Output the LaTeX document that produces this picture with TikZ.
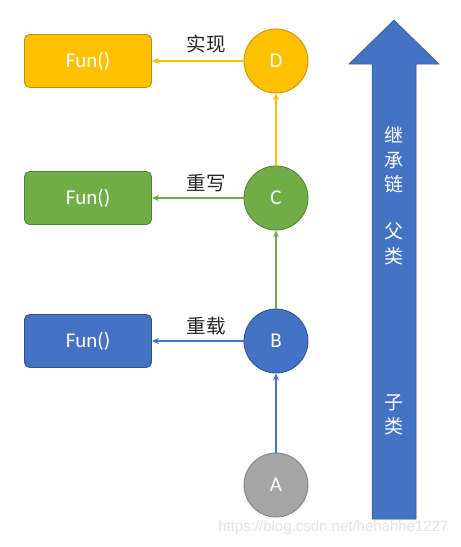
\documentclass[tikz,border=0pt]{standalone}
\usepackage{fontspec}
\setmainfont{Carlito}
\newfontfamily\cjk{Noto Sans CJK SC}
\newfontfamily\wmfont{Liberation Sans}
\usetikzlibrary{arrows.meta}
\definecolor{yel}{HTML}{FFC000}\definecolor{yelb}{HTML}{BF9000}
\definecolor{grn}{HTML}{70AD47}\definecolor{grnb}{HTML}{507E32}
\definecolor{blu}{HTML}{4472C4}\definecolor{blub}{HTML}{2F528F}
\definecolor{gry}{HTML}{A5A5A5}\definecolor{gryb}{HTML}{7F7F7F}
\begin{document}
\begin{tikzpicture}[x=1pt,y=-1pt,
  cls/.style={circle,minimum size=64pt,inner sep=0pt,text=white,font=\fontsize{21}{21}\selectfont,line width=0.8pt},
  funbox/.style={rectangle,rounded corners=5pt,minimum width=127pt,minimum height=53pt,inner sep=0pt,text=white,font=\fontsize{21}{21}\selectfont,line width=0.8pt},
  lab/.style={font=\cjk\fontsize{19.5}{20}\selectfont,text=black!85},
  conn/.style={line width=1.1pt,-{Stealth[length=7pt,width=6pt]}},
  chain/.style={font=\cjk\fontsize{19}{24.5}\selectfont,text=white,align=center}]
\useasboundingbox (0,0) rectangle (461,547);
\fill[white] (0,0) rectangle (461,547);
% big arrow
\draw[fill=blu,draw=blub,line width=0.5pt] (372,519) -- (372,64) -- (349,64) -- (394,20) -- (439,64) -- (416,64) -- (416,519) -- cycle;
\node[chain] (t1) at (394,160) {继\\承\\链};
\node[chain] (t2) at (394,244) {父\\类};
\node[chain] (t3) at (394,415) {子\\类};
% circles
\node[cls,fill=yel,draw=yelb] (D) at (276,61) {D};
\node[cls,fill=grn,draw=grnb] (C) at (276,198) {C};
\node[cls,fill=blu,draw=blub] (B) at (276,341) {B};
\node[cls,fill=gry,draw=gryb] (A) at (276,485) {A};
% boxes
\node[funbox,fill=yel,draw=yelb] (fD) at (88,61) {Fun()};
\node[funbox,fill=grn,draw=grnb] (fC) at (88,198) {Fun()};
\node[funbox,fill=blu,draw=blub] (fB) at (88,341) {Fun()};
% connectors
\draw[conn,yel] (D) -- (fD.east);
\draw[conn,grn] (C) -- (fC.east);
\draw[conn,blu] (B) -- (fB.east);
\draw[conn,yel] (C) -- (D);
\draw[conn,grn] (B) -- (C);
\draw[conn,blu] (A) -- (B);
% labels
\node[lab] (l1) at (206,44) {实现};
\node[lab] (l2) at (206,183) {重写};
\node[lab] (l3) at (206,326) {重载};
% watermark
\node[font=\wmfont\fontsize{15}{15}\selectfont,text=black!11,anchor=east] (wm) at (452,528) {https://blog.csdn.net/hehahhe1227};
\end{tikzpicture}
\end{document}
